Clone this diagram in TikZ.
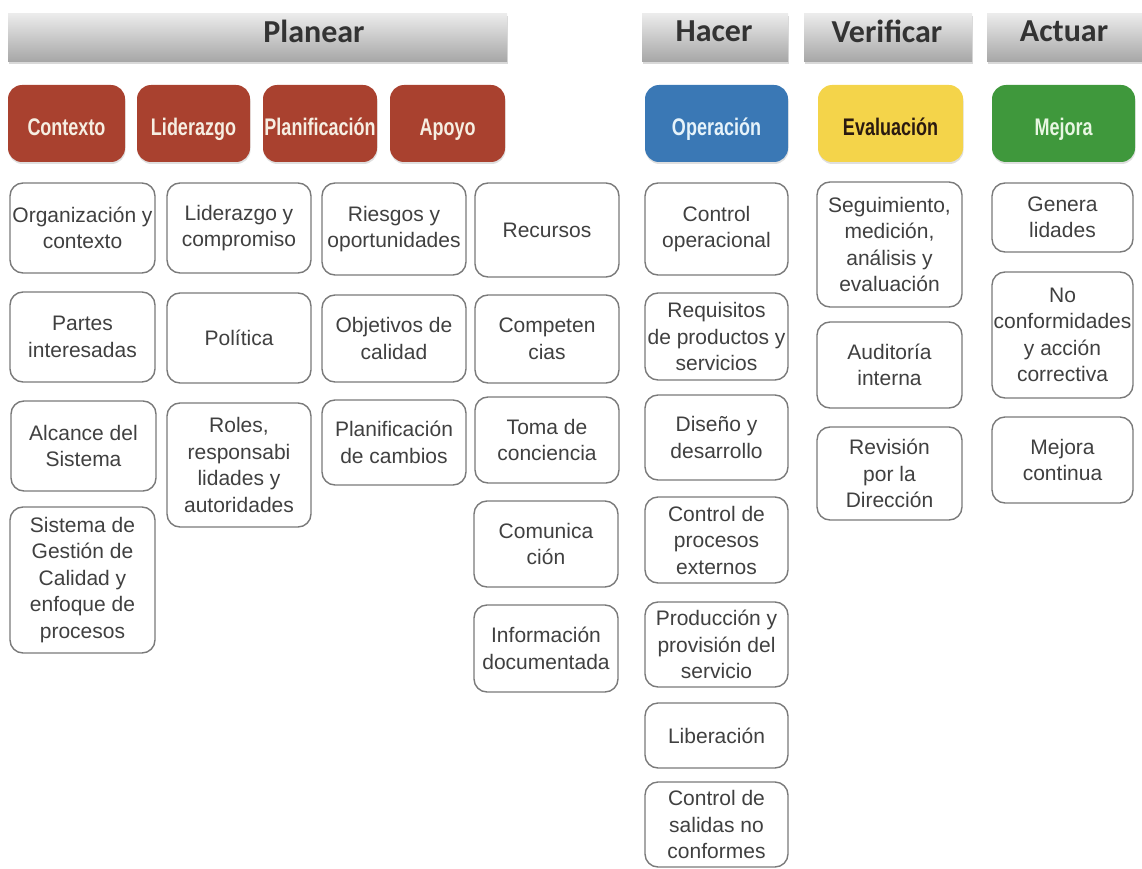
\documentclass[tikz,border=0pt]{standalone}
\usepackage{fontspec}
\setmainfont{Liberation Sans}
\newfontfamily\headfont{Carlito}
\newfontfamily\tabfont[FakeStretch=0.75]{Liberation Sans}
\usetikzlibrary{shadows}

\definecolor{barTop}{HTML}{EBEBEB}
\definecolor{barMid}{HTML}{D9D9D9}
\definecolor{barBot}{HTML}{A6A6A6}
\definecolor{headText}{HTML}{333333}
\definecolor{planRed}{HTML}{A9412F}
\definecolor{doBlue}{HTML}{3A78B5}
\definecolor{checkYellow}{HTML}{F4D44A}
\definecolor{actGreen}{HTML}{3F983C}
\definecolor{lightText}{HTML}{F6EEE2}
\definecolor{blueText}{HTML}{E6F3FA}
\definecolor{greenText}{HTML}{E8F6E2}
\definecolor{darkText}{HTML}{2A1A10}
\definecolor{itemLine}{HTML}{7A7A7A}
\definecolor{itemText}{HTML}{404040}

\tikzset{
  hdrbar/.style={inner sep=0pt, minimum height=48pt,
    top color=barTop, middle color=barMid, bottom color=barBot,
    drop shadow={opacity=0.3, shadow xshift=0.5pt, shadow yshift=-2pt}},
  hdrtext/.style={inner sep=0pt, text=headText,
    font=\headfont\bfseries\fontsize{32}{36}\selectfont},
  tabbox/.style={inner sep=0pt, rounded corners=14pt,
    minimum height=77pt, text=lightText,
    text height=26pt, text depth=2pt,
    font=\tabfont\bfseries\fontsize{24}{28}\selectfont,
    drop shadow={opacity=0.25, shadow xshift=0.5pt, shadow yshift=-2pt}},
  itembox/.style={draw=itemLine, line width=1.4pt, fill=white,
    rounded corners=13pt, inner sep=0pt, align=center, text=itemText,
    font=\fontsize{21}{26.5}\selectfont},
}

\begin{document}
\begin{tikzpicture}[x=1pt, y=-1pt]
\useasboundingbox (0,0) rectangle (1142,869);
\clip (0,0) rectangle (1142,869);

% ---- phase header bars ----
\node[hdrbar, minimum width=499pt] (pBar) at (257.5,38) {};
\node[hdrbar, minimum width=146pt] (hBar) at (715,38) {};
\node[hdrbar, minimum width=168pt] (vBar) at (888,38) {};
\node[hdrbar, minimum width=160pt] (aBar) at (1067,38) {};
\node[hdrtext] (pText) at (314,31) {Planear};
\node[hdrtext] (hText) at (714,31) {Hacer};
\node[hdrtext] (vText) at (887,31) {Verificar};
\node[hdrtext] (aText) at (1064,31) {Actuar};

% ---- clause tabs ----
\node[tabbox, fill=planRed, minimum width=117pt] (contexto) at (66.5,123.5) {Contexto};
\node[tabbox, fill=planRed, minimum width=113pt] (liderazgo) at (193.5,123.5) {Liderazgo};
\node[tabbox, fill=planRed, minimum width=114pt] (planif) at (320,123.5) {Planificación};
\node[tabbox, fill=planRed, minimum width=115pt] (apoyo) at (447.5,123.5) {Apoyo};
\node[tabbox, fill=doBlue, text=blueText, minimum width=143pt] (operacion) at (716.5,123.5) {Operación};
\node[tabbox, fill=checkYellow, text=darkText, minimum width=145pt] (evaluacion) at (890.5,123.5) {Evaluación};
\node[tabbox, fill=actGreen, text=greenText, minimum width=143pt] (mejora) at (1063.5,123.5) {Mejora};

% ---- Contexto ----
\node[itembox, minimum width=145pt, minimum height=90pt] (c1) at (82.5,228) {Organización y\\contexto};
\node[itembox, minimum width=145pt, minimum height=90pt] (c2) at (82.5,337) {Partes\\interesadas};
\node[itembox, minimum width=145pt, minimum height=90pt] (c3) at (83.5,446) {Alcance del\\Sistema};
\node[itembox, minimum width=145pt, minimum height=146pt] (c4) at (82.5,580) {Sistema de\\Gestión de\\Calidad y\\enfoque de\\procesos};

% ---- Liderazgo ----
\node[itembox, minimum width=144pt, minimum height=90pt] (l1) at (239,228) {Liderazgo y\\compromiso};
\node[itembox, minimum width=144pt, minimum height=90pt] (l2) at (239,338) {Política};
\node[itembox, minimum width=144pt, minimum height=124pt] (l3) at (239,465) {Roles,\\responsabi\\lidades y\\autoridades};

% ---- Planificación ----
\node[itembox, minimum width=144pt, minimum height=92pt] (p1) at (394,229) {Riesgos y\\oportunidades};
\node[itembox, minimum width=144pt, minimum height=87pt] (p2) at (394,338.5) {Objetivos de\\calidad};
\node[itembox, minimum width=144pt, minimum height=85pt] (p3) at (394,442.5) {Planificación\\de cambios};

% ---- Apoyo ----
\node[itembox, minimum width=144pt, minimum height=94pt] (a1) at (547,230) {Recursos};
\node[itembox, minimum width=144pt, minimum height=88pt] (a2) at (547,339) {Competen\\cias};
\node[itembox, minimum width=144pt, minimum height=86pt] (a3) at (547,440) {Toma de\\conciencia};
\node[itembox, minimum width=144pt, minimum height=86pt] (a4) at (546,544) {Comunica\\ción};
\node[itembox, minimum width=144pt, minimum height=87pt] (a5) at (546,648.5) {Información\\documentada};

% ---- Operación ----
\node[itembox, minimum width=143pt, minimum height=92pt] (o1) at (716.5,229) {Control\\operacional};
\node[itembox, minimum width=143pt, minimum height=87pt] (o2) at (716.5,336.5) {Requisitos\\de productos y\\servicios};
\node[itembox, minimum width=143pt, minimum height=85pt] (o3) at (716.5,437.5) {Diseño y\\desarrollo};
\node[itembox, minimum width=143pt, minimum height=86pt] (o4) at (716.5,540) {Control de\\procesos\\externos};
\node[itembox, minimum width=143pt, minimum height=85pt] (o5) at (716.5,644.5) {Producción y\\provisión del\\servicio};
\node[itembox, minimum width=143pt, minimum height=65pt] (o6) at (716.5,735.5) {Liberación};
\node[itembox, minimum width=143pt, minimum height=85pt] (o7) at (716.5,824.5) {Control de\\salidas no\\conformes};

% ---- Evaluación ----
\node[itembox, minimum width=145pt, minimum height=125pt] (e1) at (889.5,244.5) {Seguimiento,\\medición,\\análisis y\\evaluación};
\node[itembox, minimum width=145pt, minimum height=86pt] (e2) at (889.5,365) {Auditoría\\interna};
\node[itembox, minimum width=145pt, minimum height=93pt] (e3) at (889.5,473.5) {Revisión\\por la\\Dirección};

% ---- Mejora ----
\node[itembox, minimum width=141pt, minimum height=69pt] (m1) at (1062.5,217.5) {Genera\\lidades};
\node[itembox, minimum width=141pt, minimum height=126pt] (m2) at (1062.5,335) {No\\conformidades\\y acción\\correctiva};
\node[itembox, minimum width=141pt, minimum height=86pt] (m3) at (1062.5,460) {Mejora\\continua};
\end{tikzpicture}
\end{document}
